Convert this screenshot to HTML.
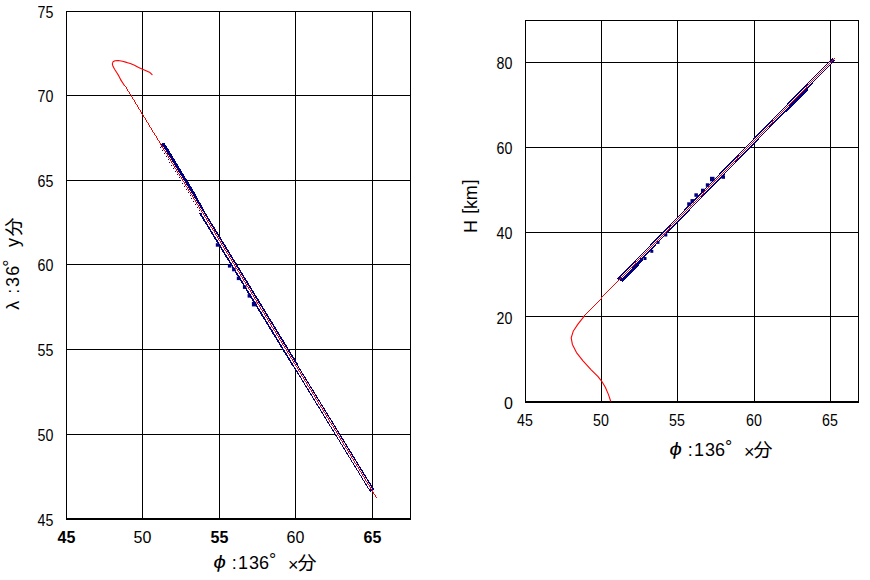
<!DOCTYPE html>
<html><head><meta charset="utf-8">
<title>chart</title>
<style>
html,body{margin:0;padding:0;background:#fff;width:870px;height:580px;overflow:hidden}
svg{display:block}
text{font-family:"Liberation Sans","IPAGothic",sans-serif;fill:#000}
.t text{font-size:16px}
.b{font-weight:bold}
</style></head><body>
<svg width="870" height="580" viewBox="0 0 870 580">
<rect width="870" height="580" fill="#fff"/>
<g stroke="#000" stroke-width="1" shape-rendering="crispEdges" fill="none">
<path d="M66.5 11V520M142.5 11V520M219.5 11V520M295.5 11V520M372.5 11V520M410.5 11V520"/>
<path d="M66 11.5H411M66 95.5H411M66 180.5H411M66 264.5H411M66 349.5H411M66 434.5H411"/>
<path d="M66 519H411" stroke-width="2"/>
<path d="M525.5 20V403M601.5 20V403M677.5 20V403M754.5 20V403M830.5 20V403M858.5 20V403"/>
<path d="M525 20.5H859M525 62.5H859M525 147.5H859M525 232.5H859M525 316.5H859"/>
<path d="M525 402H859" stroke-width="2"/>
</g>
<g fill="none" stroke-linejoin="round" stroke-linecap="round">
<g shape-rendering="crispEdges" stroke-linecap="butt">
<path d="M162.2 143.5L193.4 195L204.1 215L215.7 235" stroke="#000080" stroke-width="4.6"/>
<path d="M201.7 212L295.1 365" stroke="#000080" stroke-width="5.8"/>
<path d="M292.0 360L372.3 491" stroke="#000080" stroke-width="4.8"/>
<path d="M162.0 147L370.8 489" stroke="#fff" stroke-width="2.6"/>
</g>
<path d="M160 147h1v1h-1zM162 150h1v1h-1zM164 153h1v1h-1zM166 156h1v1h-1zM168 159h1v1h-1zM169 162h1v1h-1zM171 165h1v1h-1zM173 168h1v1h-1zM175 171h1v1h-1zM177 174h1v1h-1zM179 177h1v1h-1zM180 180h1v1h-1zM182 183h1v1h-1zM184 186h1v1h-1zM186 189h1v1h-1zM188 192h1v1h-1zM190 195h1v1h-1zM191 198h1v1h-1zM193 201h1v1h-1zM195 204h1v1h-1zM197 207h1v1h-1zM199 210h1v1h-1zM201 213h1v1h-1z" fill="#000080" shape-rendering="crispEdges"/>
<rect x="227.9" y="264.1" width="3.5" height="3.5" fill="#000080" stroke="none"/>
<rect x="232.1" y="267.8" width="3.5" height="3.5" fill="#000080" stroke="none"/>
<rect x="236.8" y="276.6" width="3.5" height="3.5" fill="#000080" stroke="none"/>
<rect x="242.9" y="285.4" width="3.5" height="3.5" fill="#000080" stroke="none"/>
<rect x="247.6" y="294.1" width="3.5" height="3.5" fill="#000080" stroke="none"/>
<rect x="251.9" y="301.9" width="4.5" height="4.5" fill="#000080" stroke="none"/>
<rect x="215.8" y="243.2" width="3.5" height="3.5" fill="#000080" stroke="none"/>
<path d="M152.1 74.7L150 72.6L146.6 71L142.6 69.3L138.6 67.4L134.5 65.3L130.3 63.6L126.6 62.4L122.5 61.2L118.3 60.5L115 60.8L113 61.8L112.3 63.9L113 66.3L114.6 69.2L116.7 72.5L118.8 75.9L120.6 79.6" stroke="#ff0000" stroke-width="1.1"/>
<path d="M120.6 79.6L124.4 85.5" stroke="#ff0000" stroke-width="1.1"/>
<path d="M124 85h1v1h-1zM125 86h1v1h-1zM126 87h1v1h-1zM126 88h1v1h-1zM127 89h1v1h-1zM127 90h1v1h-1zM128 91h1v1h-1zM129 92h1v1h-1zM129 93h1v1h-1zM130 94h1v1h-1zM131 95h1v1h-1zM131 96h1v1h-1zM132 97h1v1h-1zM132 98h1v1h-1zM133 99h1v1h-1zM134 100h1v1h-1zM134 101h1v1h-1zM135 102h1v1h-1zM135 103h1v1h-1zM136 104h1v1h-1zM137 105h1v1h-1zM137 106h1v1h-1zM138 107h1v1h-1zM138 108h1v1h-1zM139 109h1v1h-1zM140 110h1v1h-1zM140 111h1v1h-1zM141 112h1v1h-1zM141 113h1v1h-1zM142 114h1v1h-1zM143 115h1v1h-1zM143 116h1v1h-1zM144 117h1v1h-1zM145 118h1v1h-1zM145 119h1v1h-1zM146 120h1v1h-1zM146 121h1v1h-1zM147 122h1v1h-1zM148 123h1v1h-1zM148 124h1v1h-1zM149 125h1v1h-1zM149 126h1v1h-1zM150 127h1v1h-1zM151 128h1v1h-1zM151 129h1v1h-1zM152 130h1v1h-1zM152 131h1v1h-1zM153 132h1v1h-1zM154 133h1v1h-1zM154 134h1v1h-1zM155 135h1v1h-1zM156 136h1v1h-1zM156 137h1v1h-1zM157 138h1v1h-1zM157 139h1v1h-1zM158 140h1v1h-1zM159 141h1v1h-1zM159 142h1v1h-1zM160 143h1v1h-1zM160 144h1v1h-1zM161 145h1v1h-1zM162 146h1v1h-1zM162 147h1v1h-1zM163 148h1v1h-1zM163 149h1v1h-1zM164 150h1v1h-1zM165 151h1v1h-1zM165 152h1v1h-1zM166 153h1v1h-1zM167 154h1v1h-1zM167 155h1v1h-1zM168 156h1v1h-1zM168 157h1v1h-1zM169 158h1v1h-1zM170 159h1v1h-1zM170 160h1v1h-1zM171 161h1v1h-1zM171 162h1v1h-1zM172 163h1v1h-1zM173 164h1v1h-1zM173 165h1v1h-1zM174 166h1v1h-1zM174 167h1v1h-1zM175 168h1v1h-1zM176 169h1v1h-1zM176 170h1v1h-1zM177 171h1v1h-1zM177 172h1v1h-1zM178 173h1v1h-1zM179 174h1v1h-1zM179 175h1v1h-1zM180 176h1v1h-1zM181 177h1v1h-1zM181 178h1v1h-1zM182 179h1v1h-1zM182 180h1v1h-1zM183 181h1v1h-1zM184 182h1v1h-1zM184 183h1v1h-1zM185 184h1v1h-1zM185 185h1v1h-1zM186 186h1v1h-1zM187 187h1v1h-1zM187 188h1v1h-1zM188 189h1v1h-1zM188 190h1v1h-1zM189 191h1v1h-1zM190 192h1v1h-1zM190 193h1v1h-1zM191 194h1v1h-1zM192 195h1v1h-1zM192 196h1v1h-1zM193 197h1v1h-1zM193 198h1v1h-1zM194 199h1v1h-1zM195 200h1v1h-1zM195 201h1v1h-1zM196 202h1v1h-1zM196 203h1v1h-1zM197 204h1v1h-1zM198 205h1v1h-1zM198 206h1v1h-1zM199 207h1v1h-1zM199 208h1v1h-1zM200 209h1v1h-1zM201 210h1v1h-1zM201 211h1v1h-1zM202 212h1v1h-1zM203 213h1v1h-1zM203 214h1v1h-1zM204 215h1v1h-1zM204 216h1v1h-1zM205 217h1v1h-1zM206 218h1v1h-1zM206 219h1v1h-1zM207 220h1v1h-1zM207 221h1v1h-1zM208 222h1v1h-1zM209 223h1v1h-1zM209 224h1v1h-1zM210 225h1v1h-1zM210 226h1v1h-1zM211 227h1v1h-1zM212 228h1v1h-1zM212 229h1v1h-1zM213 230h1v1h-1zM214 231h1v1h-1zM214 232h1v1h-1zM215 233h1v1h-1zM215 234h1v1h-1zM216 235h1v1h-1zM217 236h1v1h-1zM217 237h1v1h-1zM218 238h1v1h-1zM218 239h1v1h-1zM219 240h1v1h-1zM220 241h1v1h-1zM220 242h1v1h-1zM221 243h1v1h-1zM221 244h1v1h-1zM222 245h1v1h-1zM223 246h1v1h-1zM223 247h1v1h-1zM224 248h1v1h-1zM224 249h1v1h-1zM225 250h1v1h-1zM226 251h1v1h-1zM226 252h1v1h-1zM227 253h1v1h-1zM228 254h1v1h-1zM228 255h1v1h-1zM229 256h1v1h-1zM229 257h1v1h-1zM230 258h1v1h-1zM231 259h1v1h-1zM231 260h1v1h-1zM232 261h1v1h-1zM232 262h1v1h-1zM233 263h1v1h-1zM234 264h1v1h-1zM234 265h1v1h-1zM235 266h1v1h-1zM235 267h1v1h-1zM236 268h1v1h-1zM237 269h1v1h-1zM237 270h1v1h-1zM238 271h1v1h-1zM239 272h1v1h-1zM239 273h1v1h-1zM240 274h1v1h-1zM240 275h1v1h-1zM241 276h1v1h-1zM242 277h1v1h-1zM242 278h1v1h-1zM243 279h1v1h-1zM243 280h1v1h-1zM244 281h1v1h-1zM245 282h1v1h-1zM245 283h1v1h-1zM246 284h1v1h-1zM246 285h1v1h-1zM247 286h1v1h-1zM248 287h1v1h-1zM248 288h1v1h-1zM249 289h1v1h-1zM250 290h1v1h-1zM250 291h1v1h-1zM251 292h1v1h-1zM251 293h1v1h-1zM252 294h1v1h-1zM253 295h1v1h-1zM253 296h1v1h-1zM254 297h1v1h-1zM254 298h1v1h-1zM255 299h1v1h-1zM256 300h1v1h-1zM256 301h1v1h-1zM257 302h1v1h-1zM257 303h1v1h-1zM258 304h1v1h-1zM259 305h1v1h-1zM259 306h1v1h-1zM260 307h1v1h-1zM260 308h1v1h-1zM261 309h1v1h-1zM262 310h1v1h-1zM262 311h1v1h-1zM263 312h1v1h-1zM264 313h1v1h-1zM264 314h1v1h-1zM265 315h1v1h-1zM265 316h1v1h-1zM266 317h1v1h-1zM267 318h1v1h-1zM267 319h1v1h-1zM268 320h1v1h-1zM268 321h1v1h-1zM269 322h1v1h-1zM270 323h1v1h-1zM270 324h1v1h-1zM271 325h1v1h-1zM271 326h1v1h-1zM272 327h1v1h-1zM273 328h1v1h-1zM273 329h1v1h-1zM274 330h1v1h-1zM275 331h1v1h-1zM275 332h1v1h-1zM276 333h1v1h-1zM276 334h1v1h-1zM277 335h1v1h-1zM278 336h1v1h-1zM278 337h1v1h-1zM279 338h1v1h-1zM279 339h1v1h-1zM280 340h1v1h-1zM281 341h1v1h-1zM281 342h1v1h-1zM282 343h1v1h-1zM282 344h1v1h-1zM283 345h1v1h-1zM284 346h1v1h-1zM284 347h1v1h-1zM285 348h1v1h-1zM286 349h1v1h-1zM286 350h1v1h-1zM287 351h1v1h-1zM287 352h1v1h-1zM288 353h1v1h-1zM289 354h1v1h-1zM289 355h1v1h-1zM290 356h1v1h-1zM290 357h1v1h-1zM291 358h1v1h-1zM292 359h1v1h-1zM292 360h1v1h-1zM293 361h1v1h-1zM293 362h1v1h-1zM294 363h1v1h-1zM295 364h1v1h-1zM295 365h1v1h-1zM296 366h1v1h-1zM297 367h1v1h-1zM297 368h1v1h-1zM298 369h1v1h-1zM298 370h1v1h-1zM299 371h1v1h-1zM300 372h1v1h-1zM300 373h1v1h-1zM301 374h1v1h-1zM301 375h1v1h-1zM302 376h1v1h-1zM303 377h1v1h-1zM303 378h1v1h-1zM304 379h1v1h-1zM304 380h1v1h-1zM305 381h1v1h-1zM306 382h1v1h-1zM306 383h1v1h-1zM307 384h1v1h-1zM307 385h1v1h-1zM308 386h1v1h-1zM309 387h1v1h-1zM309 388h1v1h-1zM310 389h1v1h-1zM311 390h1v1h-1zM311 391h1v1h-1zM312 392h1v1h-1zM312 393h1v1h-1zM313 394h1v1h-1zM314 395h1v1h-1zM314 396h1v1h-1zM315 397h1v1h-1zM315 398h1v1h-1zM316 399h1v1h-1zM317 400h1v1h-1zM317 401h1v1h-1zM318 402h1v1h-1zM318 403h1v1h-1zM319 404h1v1h-1zM320 405h1v1h-1zM320 406h1v1h-1zM321 407h1v1h-1zM322 408h1v1h-1zM322 409h1v1h-1zM323 410h1v1h-1zM323 411h1v1h-1zM324 412h1v1h-1zM325 413h1v1h-1zM325 414h1v1h-1zM326 415h1v1h-1zM326 416h1v1h-1zM327 417h1v1h-1zM328 418h1v1h-1zM328 419h1v1h-1zM329 420h1v1h-1zM329 421h1v1h-1zM330 422h1v1h-1zM331 423h1v1h-1zM331 424h1v1h-1zM332 425h1v1h-1zM333 426h1v1h-1zM333 427h1v1h-1zM334 428h1v1h-1zM334 429h1v1h-1zM335 430h1v1h-1zM336 431h1v1h-1zM336 432h1v1h-1zM337 433h1v1h-1zM337 434h1v1h-1zM338 435h1v1h-1zM339 436h1v1h-1zM339 437h1v1h-1zM340 438h1v1h-1zM340 439h1v1h-1zM341 440h1v1h-1zM342 441h1v1h-1zM342 442h1v1h-1zM343 443h1v1h-1zM343 444h1v1h-1zM344 445h1v1h-1zM345 446h1v1h-1zM345 447h1v1h-1zM346 448h1v1h-1zM347 449h1v1h-1zM347 450h1v1h-1zM348 451h1v1h-1zM348 452h1v1h-1zM349 453h1v1h-1zM350 454h1v1h-1zM350 455h1v1h-1zM351 456h1v1h-1zM351 457h1v1h-1zM352 458h1v1h-1zM353 459h1v1h-1zM353 460h1v1h-1zM354 461h1v1h-1zM354 462h1v1h-1zM355 463h1v1h-1zM356 464h1v1h-1zM356 465h1v1h-1zM357 466h1v1h-1zM358 467h1v1h-1zM358 468h1v1h-1zM359 469h1v1h-1zM359 470h1v1h-1zM360 471h1v1h-1zM361 472h1v1h-1zM361 473h1v1h-1zM362 474h1v1h-1zM362 475h1v1h-1zM363 476h1v1h-1zM364 477h1v1h-1zM364 478h1v1h-1zM365 479h1v1h-1zM365 480h1v1h-1zM366 481h1v1h-1zM367 482h1v1h-1zM367 483h1v1h-1zM368 484h1v1h-1zM369 485h1v1h-1zM369 486h1v1h-1zM370 487h1v1h-1zM370 488h1v1h-1zM371 489h1v1h-1zM372 490h1v1h-1zM372 491h1v1h-1zM373 492h1v1h-1zM373 493h1v1h-1zM374 494h1v1h-1zM375 495h1v1h-1zM375 496h1v1h-1zM376 497h1v1h-1z" fill="#ff0000" stroke="none" shape-rendering="crispEdges"/>
</g>
<g fill="none" stroke-linejoin="round" stroke-linecap="round">
<g shape-rendering="crispEdges" stroke-linecap="butt">
<path d="M619 280.0L808 85.5" stroke="#000080" stroke-width="4.3"/>
<path d="M806 87.5L833.5 59.2" stroke="#000080" stroke-width="3.8"/>
<path d="M621 277.9L830 62.8" stroke="#fff" stroke-width="2"/>
<path d="M621.4 281.3L633.9 268.4L642.4 258.7" stroke="#000080" stroke-width="3.2"/>
<path d="M785.4 111.6L807.4 88.9" stroke="#000080" stroke-width="2.6"/>
</g>
<rect x="687.2" y="202.3" width="3.5" height="3.5" fill="#000080" stroke="none"/>
<rect x="690.5" y="199.1" width="3.5" height="3.5" fill="#000080" stroke="none"/>
<rect x="694.4" y="193.3" width="3.5" height="3.5" fill="#000080" stroke="none"/>
<rect x="701.0" y="188.7" width="3.5" height="3.5" fill="#000080" stroke="none"/>
<rect x="705.8" y="183.3" width="3.5" height="3.5" fill="#000080" stroke="none"/>
<rect x="710.0" y="176.8" width="4.5" height="4.5" fill="#000080" stroke="none"/>
<rect x="721.5" y="175.3" width="3.5" height="3.5" fill="#000080" stroke="none"/>
<rect x="643.5" y="257.0" width="3" height="3" fill="#000080" stroke="none"/>
<rect x="650.3" y="249.8" width="3" height="3" fill="#000080" stroke="none"/>
<rect x="656.5" y="240.9" width="3" height="3" fill="#000080" stroke="none"/>
<rect x="664.3" y="233.5" width="3" height="3" fill="#000080" stroke="none"/>
<path d="M610.6 401L608.4 394.4L605.2 387L601.4 380.8L597.8 376.4L591.2 369.8L583 360.8L576.5 352.6L572.4 344.4L571.2 337.9L573.2 331.3L578.1 323.9L584.3 316.2" stroke="#ff0000" stroke-width="1.1"/>
<path d="M834 58h1v1h-1zM833 59h1v1h-1zM832 60h1v1h-1zM831 61h1v1h-1zM830 62h1v1h-1zM829 63h1v1h-1zM828 64h1v1h-1zM827 65h1v1h-1zM826 66h1v1h-1zM825 67h1v1h-1zM824 68h1v1h-1zM823 69h1v1h-1zM822 70h1v1h-1zM821 71h1v1h-1zM820 72h1v1h-1zM819 73h1v1h-1zM818 74h1v1h-1zM817 75h1v1h-1zM816 76h1v1h-1zM815 77h1v1h-1zM814 78h1v1h-1zM813 79h1v1h-1zM812 80h1v1h-1zM811 81h1v1h-1zM810 82h1v1h-1zM809 83h1v1h-1zM808 84h1v1h-1zM807 85h1v1h-1zM806 86h1v1h-1zM806 87h1v1h-1zM805 88h1v1h-1zM804 89h1v1h-1zM803 90h1v1h-1zM802 91h1v1h-1zM801 92h1v1h-1zM800 93h1v1h-1zM799 94h1v1h-1zM798 95h1v1h-1zM797 96h1v1h-1zM796 97h1v1h-1zM795 98h1v1h-1zM794 99h1v1h-1zM793 100h1v1h-1zM792 101h1v1h-1zM791 102h1v1h-1zM790 103h1v1h-1zM789 104h1v1h-1zM788 105h1v1h-1zM787 106h1v1h-1zM786 107h1v1h-1zM785 108h1v1h-1zM784 109h1v1h-1zM783 110h1v1h-1zM782 111h1v1h-1zM781 112h1v1h-1zM780 113h1v1h-1zM779 114h1v1h-1zM778 115h1v1h-1zM777 116h1v1h-1zM776 117h1v1h-1zM775 118h1v1h-1zM774 119h1v1h-1zM773 120h1v1h-1zM772 121h1v1h-1zM772 122h1v1h-1zM771 123h1v1h-1zM770 124h1v1h-1zM769 125h1v1h-1zM768 126h1v1h-1zM767 127h1v1h-1zM766 128h1v1h-1zM765 129h1v1h-1zM764 130h1v1h-1zM763 131h1v1h-1zM762 132h1v1h-1zM761 133h1v1h-1zM760 134h1v1h-1zM759 135h1v1h-1zM758 136h1v1h-1zM757 137h1v1h-1zM756 138h1v1h-1zM755 139h1v1h-1zM754 140h1v1h-1zM753 141h1v1h-1zM752 142h1v1h-1zM751 143h1v1h-1zM750 144h1v1h-1zM749 145h1v1h-1zM748 146h1v1h-1zM747 147h1v1h-1zM746 148h1v1h-1zM745 149h1v1h-1zM744 150h1v1h-1zM743 151h1v1h-1zM742 152h1v1h-1zM741 153h1v1h-1zM740 154h1v1h-1zM739 155h1v1h-1zM738 156h1v1h-1zM737 157h1v1h-1zM737 158h1v1h-1zM736 159h1v1h-1zM735 160h1v1h-1zM734 161h1v1h-1zM733 162h1v1h-1zM732 163h1v1h-1zM731 164h1v1h-1zM730 165h1v1h-1zM729 166h1v1h-1zM728 167h1v1h-1zM727 168h1v1h-1zM726 169h1v1h-1zM725 170h1v1h-1zM724 171h1v1h-1zM723 172h1v1h-1zM722 173h1v1h-1zM721 174h1v1h-1zM720 175h1v1h-1zM719 176h1v1h-1zM718 177h1v1h-1zM717 178h1v1h-1zM716 179h1v1h-1zM715 180h1v1h-1zM714 181h1v1h-1zM713 182h1v1h-1zM712 183h1v1h-1zM711 184h1v1h-1zM710 185h1v1h-1zM709 186h1v1h-1zM708 187h1v1h-1zM707 188h1v1h-1zM706 189h1v1h-1zM705 190h1v1h-1zM704 191h1v1h-1zM703 192h1v1h-1zM703 193h1v1h-1zM702 194h1v1h-1zM701 195h1v1h-1zM700 196h1v1h-1zM699 197h1v1h-1zM698 198h1v1h-1zM697 199h1v1h-1zM696 200h1v1h-1zM695 201h1v1h-1zM694 202h1v1h-1zM693 203h1v1h-1zM692 204h1v1h-1zM691 205h1v1h-1zM690 206h1v1h-1zM689 207h1v1h-1zM688 208h1v1h-1zM687 209h1v1h-1zM686 210h1v1h-1zM685 211h1v1h-1zM684 212h1v1h-1zM683 213h1v1h-1zM682 214h1v1h-1zM681 215h1v1h-1zM680 216h1v1h-1zM679 217h1v1h-1zM678 218h1v1h-1zM677 219h1v1h-1zM676 220h1v1h-1zM675 221h1v1h-1zM674 222h1v1h-1zM673 223h1v1h-1zM672 224h1v1h-1zM671 225h1v1h-1zM670 226h1v1h-1zM669 227h1v1h-1zM669 228h1v1h-1zM668 229h1v1h-1zM667 230h1v1h-1zM666 231h1v1h-1zM665 232h1v1h-1zM664 233h1v1h-1zM663 234h1v1h-1zM662 235h1v1h-1zM661 236h1v1h-1zM660 237h1v1h-1zM659 238h1v1h-1zM658 239h1v1h-1zM657 240h1v1h-1zM656 241h1v1h-1zM655 242h1v1h-1zM654 243h1v1h-1zM653 244h1v1h-1zM652 245h1v1h-1zM651 246h1v1h-1zM650 247h1v1h-1zM649 248h1v1h-1zM648 249h1v1h-1zM647 250h1v1h-1zM646 251h1v1h-1zM645 252h1v1h-1zM644 253h1v1h-1zM643 254h1v1h-1zM642 255h1v1h-1zM641 256h1v1h-1zM640 257h1v1h-1zM639 258h1v1h-1zM638 259h1v1h-1zM637 260h1v1h-1zM636 261h1v1h-1zM635 262h1v1h-1zM635 263h1v1h-1zM634 264h1v1h-1zM633 265h1v1h-1zM632 266h1v1h-1zM631 267h1v1h-1zM630 268h1v1h-1zM629 269h1v1h-1zM628 270h1v1h-1zM627 271h1v1h-1zM626 272h1v1h-1zM625 273h1v1h-1zM624 274h1v1h-1zM623 275h1v1h-1zM622 276h1v1h-1zM621 277h1v1h-1zM620 278h1v1h-1zM619 279h1v1h-1zM618 280h1v1h-1zM617 281h1v1h-1zM616 282h1v1h-1zM615 283h1v1h-1zM614 284h1v1h-1zM613 285h1v1h-1zM612 286h1v1h-1zM611 287h1v1h-1zM610 288h1v1h-1zM609 289h1v1h-1zM608 290h1v1h-1zM607 291h1v1h-1zM606 292h1v1h-1zM605 293h1v1h-1zM604 294h1v1h-1zM603 295h1v1h-1zM602 296h1v1h-1zM601 297h1v1h-1zM601 298h1v1h-1zM600 299h1v1h-1zM599 300h1v1h-1zM598 301h1v1h-1zM597 302h1v1h-1zM596 303h1v1h-1zM595 304h1v1h-1zM594 305h1v1h-1zM593 306h1v1h-1zM592 307h1v1h-1zM591 308h1v1h-1zM590 309h1v1h-1zM589 310h1v1h-1zM588 311h1v1h-1zM587 312h1v1h-1zM586 313h1v1h-1zM585 314h1v1h-1zM584 315h1v1h-1zM583 316h1v1h-1z" fill="#ff0000" stroke="none" shape-rendering="crispEdges"/>
</g>
<g class="t" text-anchor="end"><text x="53.4" y="18.0" textLength="15.8" lengthAdjust="spacingAndGlyphs">75</text><text x="53.4" y="102.0" textLength="15.8" lengthAdjust="spacingAndGlyphs">70</text><text x="53.4" y="187.0" textLength="15.8" lengthAdjust="spacingAndGlyphs">65</text><text x="53.4" y="271.0" textLength="15.8" lengthAdjust="spacingAndGlyphs">60</text><text x="53.4" y="356.0" textLength="15.8" lengthAdjust="spacingAndGlyphs">55</text><text x="53.4" y="441.0" textLength="15.8" lengthAdjust="spacingAndGlyphs">50</text><text x="53.4" y="525.5" textLength="15.8" lengthAdjust="spacingAndGlyphs">45</text></g>
<g class="t" text-anchor="middle"><text x="66.5" y="543" class="b">45</text><text x="142.5" y="543">50</text><text x="219.5" y="543" class="b">55</text><text x="295.5" y="543">60</text><text x="372.5" y="543" class="b">65</text></g>
<g><text transform="translate(212.6 568.0) skewX(-10) scale(1.25 1)" font-size="18">ϕ</text><text x="231.8" y="569.0" font-size="18">:</text><text x="238.1" y="569.0" font-size="18">1</text><text x="248.9" y="569.0" font-size="18">3</text><text x="259.0" y="569.0" font-size="18">6</text><text x="269.0" y="566.0" font-size="18">°</text><text x="288.0" y="571.0" font-size="18">×</text><text x="296.9" y="569.5" font-size="20" font-family="Liberation Sans, Noto Sans CJK JP, sans-serif" font-weight="300">分</text></g>
<g transform="translate(19 311) rotate(-90)"><text x="1.2" y="0.0" font-size="18">λ</text><text x="17.2" y="0.0" font-size="18">:</text><text x="24.1" y="0.0" font-size="18">3</text><text x="35.2" y="0.0" font-size="18">6</text><text x="44.3" y="-3.0" font-size="18">°</text><text x="64.0" y="0.0" font-size="18">y</text><text x="73.9" y="1.5" font-size="20" font-family="Liberation Sans, Noto Sans CJK JP, sans-serif" font-weight="300">分</text></g>
<g class="t" text-anchor="end"><text x="512.3" y="69.0" textLength="15.8" lengthAdjust="spacingAndGlyphs">80</text><text x="512.3" y="154.0" textLength="15.8" lengthAdjust="spacingAndGlyphs">60</text><text x="512.3" y="239.0" textLength="15.8" lengthAdjust="spacingAndGlyphs">40</text><text x="512.3" y="324.0" textLength="15.8" lengthAdjust="spacingAndGlyphs">20</text><text x="513" y="408.5">0</text></g>
<g class="t" text-anchor="middle"><text x="525.0" y="426" textLength="15.8" lengthAdjust="spacingAndGlyphs">45</text><text x="601.0" y="426" textLength="15.8" lengthAdjust="spacingAndGlyphs">50</text><text x="677.0" y="426" textLength="15.8" lengthAdjust="spacingAndGlyphs">55</text><text x="754.0" y="426" textLength="15.8" lengthAdjust="spacingAndGlyphs">60</text><text x="830.0" y="426" textLength="15.8" lengthAdjust="spacingAndGlyphs">65</text></g>
<g><text transform="translate(668.6 455.0) skewX(-10) scale(1.25 1)" font-size="18">ϕ</text><text x="687.8" y="456.0" font-size="18">:</text><text x="694.1" y="456.0" font-size="18">1</text><text x="704.9" y="456.0" font-size="18">3</text><text x="715.0" y="456.0" font-size="18">6</text><text x="725.0" y="453.0" font-size="18">°</text><text x="744.0" y="458.0" font-size="18">×</text><text x="752.9" y="456.5" font-size="20" font-family="Liberation Sans, Noto Sans CJK JP, sans-serif" font-weight="300">分</text></g>
<g transform="translate(477.2 233) rotate(-90)"><text x="0.1" y="0.0" font-size="18">H</text><text x="19.2" y="-2.5" font-size="18">[</text><text x="24.1" y="0.0" font-size="18">k</text><text x="32.7" y="0.0" font-size="18">m</text><text x="48.6" y="-2.5" font-size="18">]</text></g>
</svg>
</body></html>
